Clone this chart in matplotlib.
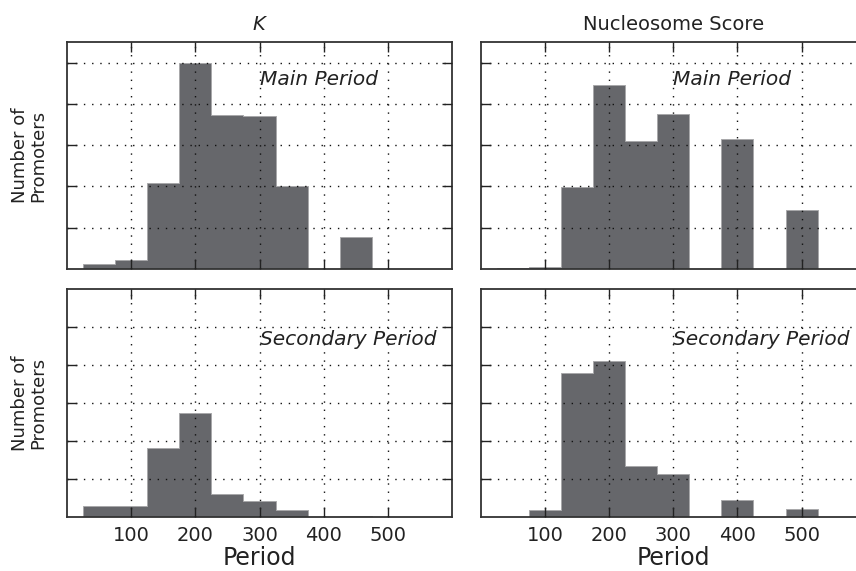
import matplotlib
matplotlib.use("Agg")
import matplotlib.pyplot as plt

# histogram bins (width 50, centred on 50..550)
bin_centers = [50, 100, 150, 200, 250, 300, 350, 400, 450, 500, 550]
bin_edges = [25, 75, 125, 175, 225, 275, 325, 375, 425, 475, 525, 575]

# counts (arbitrary units, grid step = 10)
k_main = [1.2, 2.1, 20.8, 49.8, 37.4, 37.0, 20.2, 0, 7.8, 0, 0]
nuc_main = [0.25, 0.4, 19.9, 44.5, 31.1, 37.5, 0, 31.4, 0, 14.3, 0]
k_second = [2.9, 2.8, 18.3, 27.3, 6.1, 4.1, 1.9, 0, 0.3, 0, 0]
nuc_second = [0.1, 1.9, 38.0, 41.1, 13.4, 11.2, 0, 4.5, 0, 2.1, 0]

x_ticks = [100, 200, 300, 400, 500]
y_ticks = [10, 20, 30, 40, 50]

col_titles = ["$K$", "Nucleosome Score"]
row_labels = ["Main Period", "Secondary Period"]

hist_confs = {
    "histtype": "stepfilled",
    "facecolor": "#66676b",
    "edgecolor": "#a8a8aa",
    "linewidth": 0.7,
}

fig = plt.figure(figsize=(8.56, 5.71), dpi=100)

ax_w = 0.4498
positions = {
    "A": [0.0783, 0.5289, ax_w, 0.3975],
    "B": [0.5616, 0.5289, ax_w, 0.3975],
    "C": [0.0783, 0.0946, ax_w, 0.3988],
    "D": [0.5616, 0.0946, ax_w, 0.3988],
}
axes = {k: fig.add_axes(v) for k, v in positions.items()}


def plot_panel(axis, counts, label, ylim, text_y, bottom_row, title=None, ylabel=False):
    axis.hist(bin_centers, bins=bin_edges, weights=counts, **hist_confs)
    axis.set_xlim(0, 600)
    axis.set_ylim(0, ylim)
    axis.set_xticks(x_ticks)
    axis.set_yticks(y_ticks)
    axis.set_yticklabels([])
    if bottom_row:
        axis.set_xticklabels([str(t) for t in x_ticks])
        axis.set_xlabel("Period", fontsize=17, labelpad=0.5, color="#222222")
    else:
        axis.set_xticklabels([])
    axis.tick_params(direction="in", length=7, width=1, top=True, right=True,
                     labelsize=14, pad=6.5, colors="#222222")
    axis.set_axisbelow(False)
    axis.grid(True, linestyle=(0, (1, 4.9)), color="#111111", linewidth=1)
    for sp in axis.spines.values():
        sp.set_linewidth(1.3)
        sp.set_color("#333333")
    axis.text(300, text_y * ylim, label, fontsize=14.5, style="italic",
              ha="left", va="center", color="#222222")
    if title:
        axis.set_title(title, fontsize=14, pad=9, color="#222222")
    if ylabel:
        axis.set_ylabel("Number of\nPromoters", fontsize=13, color="#222222",
                        linespacing=1.0)
        axis.yaxis.set_label_coords(-0.052, 0.5)


plot_panel(axes["A"], k_main, row_labels[0], 55, 0.835, False, col_titles[0], True)
plot_panel(axes["B"], nuc_main, row_labels[0], 55, 0.835, False, col_titles[1])
plot_panel(axes["C"], k_second, row_labels[1], 60, 0.78, True, ylabel=True)
plot_panel(axes["D"], nuc_second, row_labels[1], 60, 0.78, True)

plt.savefig("out.png", dpi=100)
